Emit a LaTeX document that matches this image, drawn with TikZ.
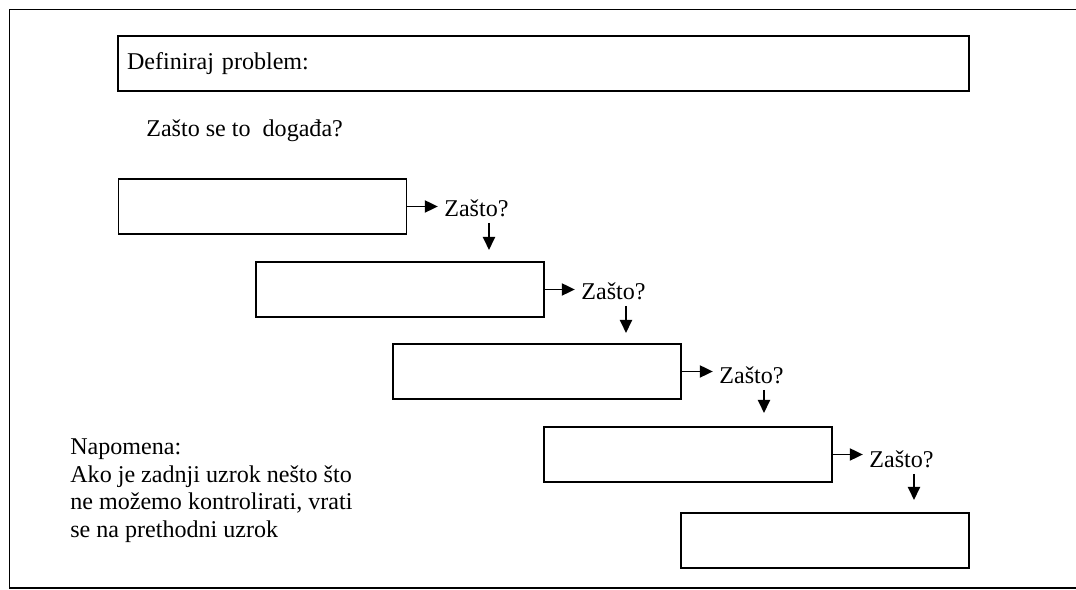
\documentclass[tikz,border=0pt]{standalone}
\usepackage{fontspec}
\setmainfont{Liberation Serif}
\usepackage{tikz}
\usetikzlibrary{arrows.meta, positioning}

\tikzset{
  causebox/.style={draw, line width=1.1pt, minimum width=5.76cm, minimum height=1.1cm},
  whytext/.style={anchor=west, inner sep=0pt, font=\fontsize{13.7}{16}\selectfont},
  whyarrow/.style={-{Triangle[length=0.26cm, width=0.24cm]}, line width=1.1pt}
}

\begin{document}
\begin{tikzpicture}[x=0.02cm, y=-0.02cm, font=\fontsize{13.7}{16}\selectfont]
  \useasboundingbox (0,0) rectangle (1076,590);
  % outer frame
  \draw[line width=1.1pt] (1090,9.5) -- (9.5,9.5) -- (9.5,588) -- (1090,588);

  % problem
  \node[draw, line width=1.1pt, minimum width=17.02cm, minimum height=1.1cm, text width=16.66cm,
        inner xsep=0.18cm, align=left] (problem) at (543.5,63.5) {Definiraj problem:};
  \node[anchor=west, inner sep=0pt] (question) at (146,131) {Zašto se to\ \ događa?};

  % chain of causes
  \node[causebox] (b1) at (262.5,206.5) {};
  \node[causebox] (b2) at (400,289.5) {};
  \node[causebox] (b3) at (537,371.5) {};
  \node[causebox] (b4) at (688,454.5) {};
  \node[causebox] (b5) at (825,540.5) {};

  \node[whytext] (z1) at (444,208) {Zašto?};
  \node[whytext] (z2) at (581,291) {Zašto?};
  \node[whytext] (z3) at (719,375) {Zašto?};
  \node[whytext] (z4) at (869,459) {Zašto?};

  \coordinate (d1) at (489,250);
  \coordinate (d2) at (626,333);
  \coordinate (d3) at (764,413);
  \coordinate (d4) at (914,500);

  \foreach \i in {1,...,4} {
    \draw[whyarrow, shorten >=3.5pt] (b\i.east) -- (b\i.east -| z\i.west);
    \draw[whyarrow] ([yshift=-0.12cm]z\i.south -| d\i) -- (d\i);
  }

  % note
  \node[anchor=north west, inner sep=0pt, align=left, font=\fontsize{13.7}{15.9}\selectfont] (note) at (70,438)
    {Napomena:\\Ako je zadnji uzrok nešto što\\ne možemo kontrolirati, vrati\\se na prethodni uzrok};
\end{tikzpicture}
\end{document}
